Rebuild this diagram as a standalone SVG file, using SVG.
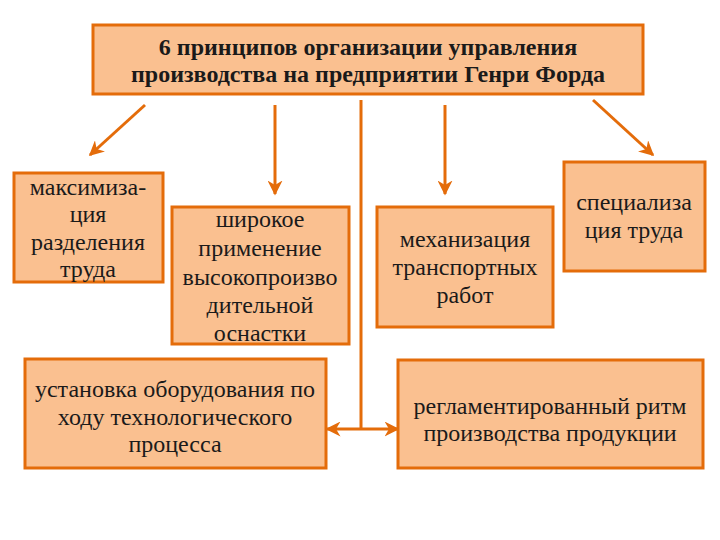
<svg xmlns="http://www.w3.org/2000/svg" width="720" height="540" viewBox="0 0 720 540">
<defs>
<style>
.box{fill:#FAC090;stroke:#E46C0A;stroke-width:3}
.t{font-family:'Times New Roman','Liberation Serif','DejaVu Serif',serif;font-size:24px;fill:#1a1a1a;text-anchor:middle}
.h{font-family:'Times New Roman','Liberation Serif','DejaVu Serif',serif;font-size:24px;font-weight:bold;fill:#1a1a1a;text-anchor:middle}
.ln{stroke:#E46C0A;stroke-width:3;fill:none}
</style>
<marker id="ah" viewBox="0 0 10 10" refX="9" refY="5" markerWidth="5" markerHeight="5" orient="auto-start-reverse" markerUnits="strokeWidth">
<path d="M0,0 L10,5 L0,10 L3,5 Z" fill="#E46C0A"/>
</marker>
</defs>
<rect width="720" height="540" fill="#ffffff"/>
<g id="connectors">
<line class="ln" x1="145" y1="105" x2="90" y2="155" marker-end="url(#ah)"/>
<line class="ln" x1="275" y1="105" x2="275" y2="194" marker-end="url(#ah)"/>
<line class="ln" x1="445" y1="105" x2="445" y2="194" marker-end="url(#ah)"/>
<line class="ln" x1="593" y1="100" x2="653" y2="155" marker-end="url(#ah)"/>
<line class="ln" x1="361" y1="100" x2="361" y2="429"/>
<line class="ln" x1="327" y1="429" x2="398" y2="429" marker-start="url(#ah)" marker-end="url(#ah)"/>
</g>
<g id="title">
<rect class="box" x="93" y="25" width="550" height="69"/>
<text class="h" x="368" y="55">6 принципов организации управления</text>
<text class="h" x="368" y="82">производства на предприятии Генри Форда</text>
</g>
<g id="n1">
<rect class="box" x="14" y="173" width="149" height="109"/>
<text class="t" x="88" y="195">максимиза-</text>
<text class="t" x="88" y="222">ция</text>
<text class="t" x="88" y="250">разделения</text>
<text class="t" x="88" y="277">труда</text>
</g>
<g id="n2">
<rect class="box" x="172" y="207" width="177" height="137"/>
<text class="t" x="260" y="227">широкое</text>
<text class="t" x="260" y="256">применение</text>
<text class="t" x="260" y="285">высокопроизво</text>
<text class="t" x="260" y="313">дительной</text>
<text class="t" x="260" y="341">оснастки</text>
</g>
<g id="n3">
<rect class="box" x="377" y="207" width="176" height="120"/>
<text class="t" x="465" y="247">механизация</text>
<text class="t" x="465" y="275">транспортных</text>
<text class="t" x="465" y="303">работ</text>
</g>
<g id="n4">
<rect class="box" x="564" y="162" width="141" height="109"/>
<text class="t" x="634" y="210">специализа</text>
<text class="t" x="634" y="238">ция труда</text>
</g>
<g id="n5">
<rect class="box" x="25" y="359" width="301" height="109"/>
<text class="t" x="175" y="397">установка оборудования по</text>
<text class="t" x="175" y="425">ходу технологического</text>
<text class="t" x="175" y="452">процесса</text>
</g>
<g id="n6">
<rect class="box" x="398" y="360" width="305" height="108"/>
<text class="t" x="550" y="414">регламентированный ритм</text>
<text class="t" x="550" y="441">производства продукции</text>
</g>
</svg>
